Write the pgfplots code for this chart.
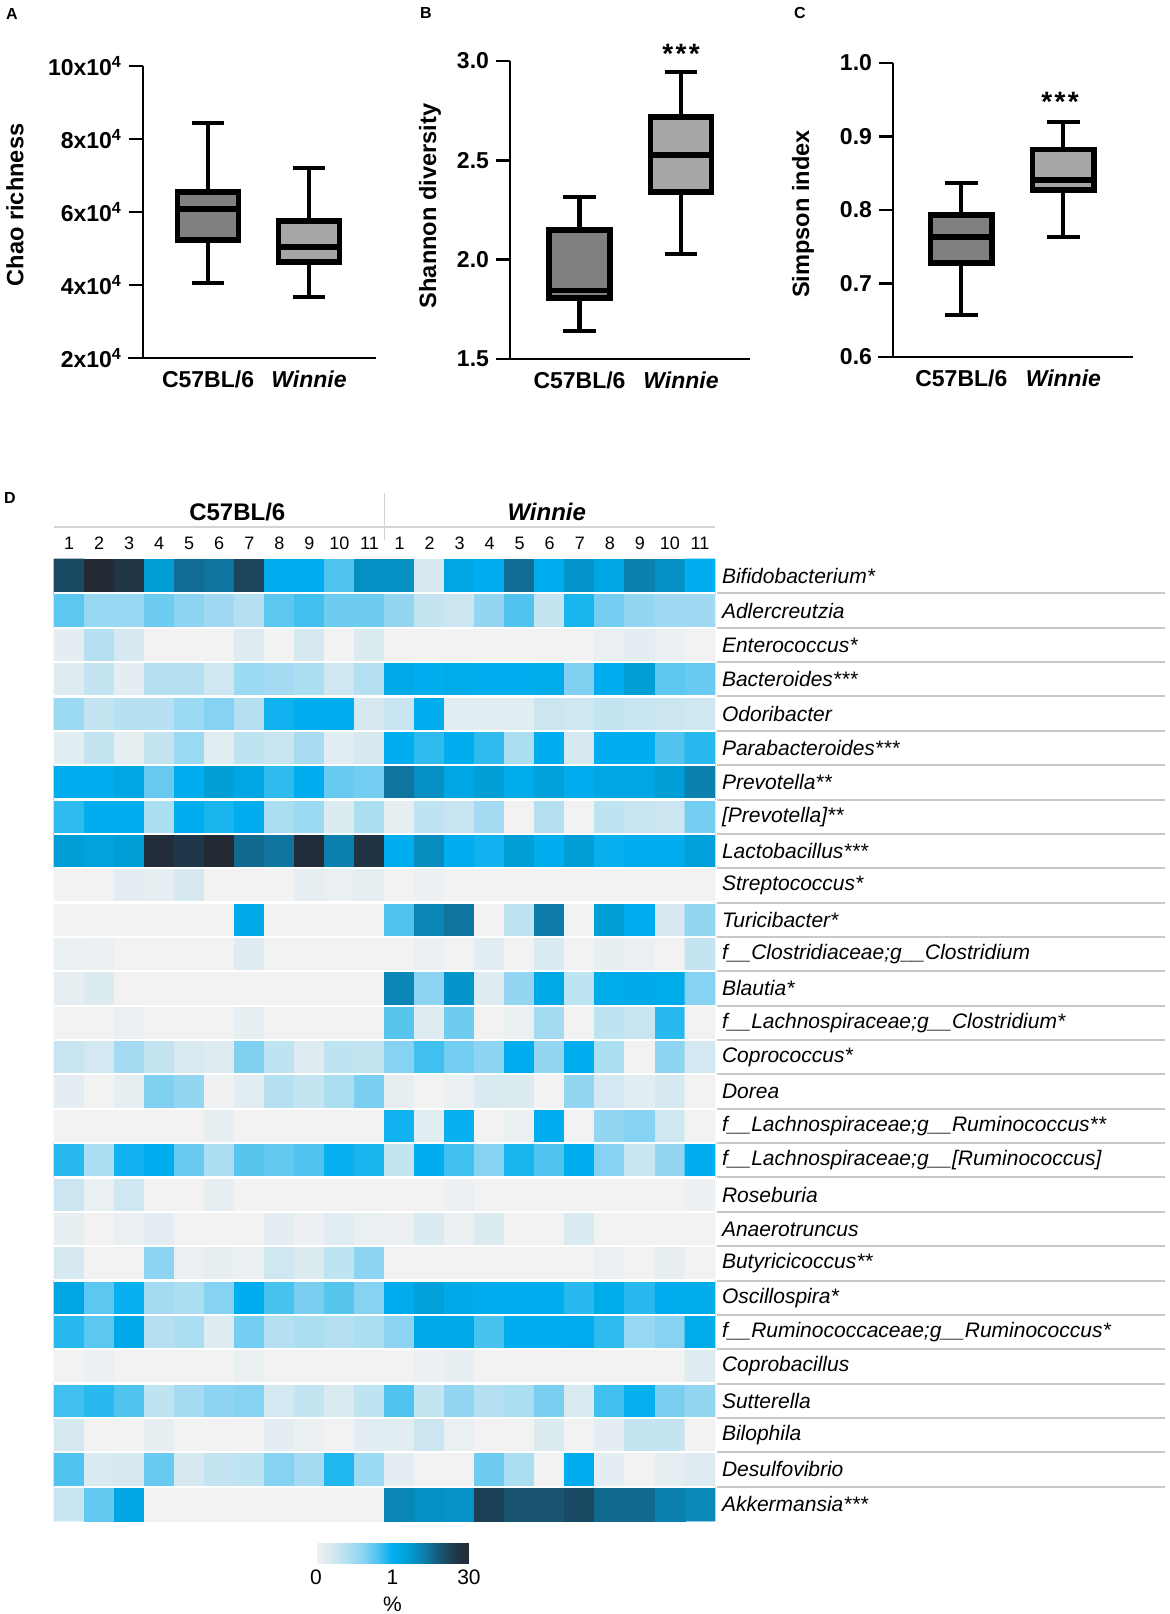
\documentclass[border=0pt]{standalone}
\usepackage{fontspec}
\setmainfont{Liberation Sans}
\usepackage{pgfplots}
\pgfplotsset{compat=1.18}
\usepgfplotslibrary{statistics}
\definecolor{bdark}{RGB}{128,128,128}
\definecolor{blight}{RGB}{166,166,168}
\definecolor{lgray}{RGB}{200,200,200}
\pgfplotsset{
  boxaxis/.style={
    scale only axis, anchor=south west,
    axis lines=left, axis line style={-, line width=1.4pt},
    xtick={1,2}, xticklabels={C57BL/6,\textit{Winnie}},
    x tick style={draw=none},
    tick align=outside, major tick length=7pt,
    y tick style={line width=1.4pt, black},
    ticklabel style={font=\fontsize{11.5}{13}\selectfont\bfseries},
    xticklabel style={yshift=4pt},
    enlargelimits=false, clip=false,
    boxplot/draw direction=y,
  },
  boxst/.style={draw=black, line width=2.7pt, line join=miter,
    boxplot/every whisker/.style={line width=2.1pt},
    boxplot/every median/.style={line width=2.7pt}},
  bp/.style n args={6}{boxplot prepared={draw direction=y, lower whisker=#1, lower quartile=#2, median=#3, upper quartile=#4, upper whisker=#5, draw position=#6, box extend=0.6, whisker extend=0.32}},
}
\begin{document}
\begin{tikzpicture}
\useasboundingbox (0,0) rectangle (585pt,807pt);

% ---------- A ----------
\begin{axis}[boxaxis, at={(71.5pt,628pt)}, width=116.5pt, height=146pt,
  xmin=0.356, xmax=2.663, ymin=2, ymax=10, ytick={2,4,6,8,10},
  yticklabels={2x10\textsuperscript{4},4x10\textsuperscript{4},6x10\textsuperscript{4},8x10\textsuperscript{4},10x10\textsuperscript{4}}]
\addplot[boxst, fill=bdark, bp={4.05}{5.23}{6.08}{6.55}{8.44}{1}] coordinates {};
\addplot[boxst, fill=blight, bp={3.68}{4.63}{5.04}{5.75}{7.2}{2}] coordinates {};
\draw[line width=1.4pt] (axis cs:0.208,2) -- (axis cs:0.356,2);
\end{axis}

% ---------- B ----------
\begin{axis}[boxaxis, at={(255pt,627.5pt)}, width=120pt, height=149pt,
  xmin=0.315, xmax=2.68, ymin=1.5, ymax=3.0, ytick={1.5,2,2.5,3},
  yticklabels={1.5,2.0,2.5,3.0}]
\addplot[boxst, fill=bdark, bp={1.641}{1.807}{1.845}{2.149}{2.315}{1}] coordinates {};
\addplot[boxst, fill=blight, bp={2.029}{2.34}{2.527}{2.718}{2.944}{2}] coordinates {};
\draw[line width=1.4pt] (axis cs:0.187,1.5) -- (axis cs:0.315,1.5);
\end{axis}

% ---------- C ----------
\begin{axis}[boxaxis, at={(446.5pt,628.5pt)}, width=117.5pt, height=147pt,
  xmin=0.33, xmax=2.68, ymin=0.6, ymax=1.0, ytick={0.6,0.7,0.8,0.9,1.0},
  yticklabels={0.6,0.7,0.8,0.9,1.0}]
\addplot[boxst, fill=bdark, bp={0.657}{0.728}{0.763}{0.793}{0.837}{1}] coordinates {};
\addplot[boxst, fill=blight, bp={0.763}{0.827}{0.841}{0.882}{0.920}{2}] coordinates {};
\draw[line width=1.4pt] (axis cs:0.18,0.6) -- (axis cs:0.33,0.6);
\end{axis}

\node[rotate=90, font=\fontsize{11.8}{14}\selectfont\bfseries] at (7.5pt,704.5pt) {Chao richness};
\node[rotate=90, font=\fontsize{11.8}{14}\selectfont\bfseries] at (215pt,704pt) {Shannon diversity};
\node[rotate=90, font=\fontsize{11.8}{14}\selectfont\bfseries] at (401.5pt,700pt) {Simpson index};
\node[font=\fontsize{8}{9}\selectfont\bfseries] at (6pt,800pt) {A};
\node[font=\fontsize{8}{9}\selectfont\bfseries] at (213pt,800.5pt) {B};
\node[font=\fontsize{8}{9}\selectfont\bfseries] at (400pt,800.5pt) {C};
\node[font=\fontsize{8}{9}\selectfont\bfseries] at (5pt,558pt) {D};
\node[font=\fontsize{14}{14}\selectfont\bfseries] at (340.5pt,780pt) {*\hspace{1.2pt}*\hspace{1.2pt}*};
\node[font=\fontsize{14}{14}\selectfont\bfseries] at (530pt,756pt) {*\hspace{1.2pt}*\hspace{1.2pt}*};

% ---------- D heatmap ----------
\begin{axis}[at={(27pt,46.5pt)}, anchor=south west, scale only axis,
  width=330.5pt, height=481pt,
  xmin=-0.5, xmax=21.5, ymin=-0.5, ymax=27.5, y dir=reverse,
  axis line style={draw=none}, clip=false, axis on top,
  xtick=\empty, ytick={0,...,27},
  minor xtick={0.5,1.5,...,20.5}, minor ytick={0.5,1.5,...,26.5},
  grid=minor, minor grid style={white, line width=1.1pt},
  major tick length=0pt, minor tick length=0pt,
  yticklabel pos=right,
  yticklabel style={anchor=west, font=\fontsize{10.5}{12}\selectfont\itshape},
  yticklabels={Bifidobacterium*, Adlercreutzia, Enterococcus*, Bacteroides***, Odoribacter, Parabacteroides***, Prevotella**, {[Prevotella]**}, Lactobacillus***, Streptococcus*, Turicibacter*, f\_\_Clostridiaceae;g\_\_Clostridium, Blautia*, f\_\_Lachnospiraceae;g\_\_Clostridium*, Coprococcus*, Dorea, f\_\_Lachnospiraceae;g\_\_Ruminococcus**, {f\_\_Lachnospiraceae;g\_\_[Ruminococcus]}, Roseburia, Anaerotruncus, Butyricicoccus**, Oscillospira*, f\_\_Ruminococcaceae;g\_\_Ruminococcus*, Coprobacillus, Sutterella, Bilophila, Desulfovibrio, Akkermansia***},
  colormap={hm}{rgb255(0)=(242,242,242) rgb255(1)=(214,233,240) rgb255(2)=(180,224,242) rgb255(3)=(140,212,242) rgb255(4)=(80,196,239) rgb255(5)=(0,174,239) rgb255(6)=(0,158,214) rgb255(7)=(12,128,174) rgb255(8)=(22,90,120) rgb255(9)=(30,58,78) rgb255(10)=(36,42,52)},
  point meta min=0, point meta max=10,
  colorbar horizontal,
  colorbar style={at={(parent axis.south west)}, anchor=north west, xshift=131pt, yshift=-2.5pt,
    scale only axis, width=76.5pt, height=10pt,
    xtick={0,5,10}, xticklabels={0,1,30}, major tick length=0pt,
    axis line style={draw=none}, tick style={draw=none},
    xticklabel style={font=\fontsize{10.5}{12}\selectfont},
    xlabel={\%}, xlabel style={font=\fontsize{10.5}{12}\selectfont, yshift=1pt}},
]
\addplot[matrix plot*, mesh/cols=22, point meta=explicit] coordinates {
(0,0)[8.5] (1,0)[10] (2,0)[9.3] (3,0)[6] (4,0)[7.5] (5,0)[7.3] (6,0)[8.7] (7,0)[5] (8,0)[5] (9,0)[4] (10,0)[6.5] (11,0)[6.5] (12,0)[1] (13,0)[5.5] (14,0)[5] (15,0)[7.5] (16,0)[5] (17,0)[6.3] (18,0)[5.5] (19,0)[7] (20,0)[6.5] (21,0)[5]

(0,1)[3.8] (1,1)[2.7] (2,1)[2.7] (3,1)[3.5] (4,1)[3] (5,1)[2.5] (6,1)[2] (7,1)[3.8] (8,1)[4.2] (9,1)[3.5] (10,1)[3.5] (11,1)[2.8] (12,1)[1.5] (13,1)[1.3] (14,1)[2.8] (15,1)[4] (16,1)[1.5] (17,1)[4.7] (18,1)[3.4] (19,1)[2.8] (20,1)[2.5] (21,1)[2.5]

(0,2)[0.5] (1,2)[2] (2,2)[1] (3,2)[0] (4,2)[0] (5,2)[0] (6,2)[0.7] (7,2)[0] (8,2)[1] (9,2)[0] (10,2)[0.8] (11,2)[0] (12,2)[0] (13,2)[0] (14,2)[0] (15,2)[0] (16,2)[0] (17,2)[0] (18,2)[0.3] (19,2)[0.5] (20,2)[0.3] (21,2)[0]

(0,3)[0.7] (1,3)[1.5] (2,3)[0.5] (3,3)[2] (4,3)[2] (5,3)[1.2] (6,3)[2.6] (7,3)[2.4] (8,3)[2.2] (9,3)[1.2] (10,3)[2] (11,3)[5.3] (12,3)[5] (13,3)[5.2] (14,3)[5] (15,3)[5] (16,3)[5.2] (17,3)[3.2] (18,3)[5] (19,3)[6] (20,3)[3.8] (21,3)[3.6]

(0,4)[2.6] (1,4)[1.5] (2,4)[1.9] (3,4)[1.9] (4,4)[2.6] (5,4)[3.1] (6,4)[2] (7,4)[4.8] (8,4)[5] (9,4)[5] (10,4)[1] (11,4)[1.4] (12,4)[5] (13,4)[0.6] (14,4)[0.6] (15,4)[0.6] (16,4)[1.3] (17,4)[1.2] (18,4)[1.6] (19,4)[1.4] (20,4)[1.3] (21,4)[1.2]

(0,5)[0.6] (1,5)[1.5] (2,5)[0.4] (3,5)[1.5] (4,5)[2.6] (5,5)[0.6] (6,5)[1.7] (7,5)[1.4] (8,5)[2.3] (9,5)[0.6] (10,5)[1] (11,5)[5] (12,5)[4.4] (13,5)[5] (14,5)[4.4] (15,5)[2.2] (16,5)[5] (17,5)[1] (18,5)[5] (19,5)[5] (20,5)[4] (21,5)[4.5]

(0,6)[5] (1,6)[5] (2,6)[5.5] (3,6)[3.6] (4,6)[5] (5,6)[6] (6,6)[5.5] (7,6)[4.4] (8,6)[5] (9,6)[3.6] (10,6)[3.4] (11,6)[7.3] (12,6)[6.5] (13,6)[5.5] (14,6)[6] (15,6)[5.2] (16,6)[5.8] (17,6)[5.1] (18,6)[5.5] (19,6)[5.5] (20,6)[6] (21,6)[7]

(0,7)[4.4] (1,7)[5] (2,7)[5] (3,7)[2.2] (4,7)[5] (5,7)[4.7] (6,7)[5] (7,7)[2.2] (8,7)[2.6] (9,7)[0.8] (10,7)[2.2] (11,7)[0.4] (12,7)[1.7] (13,7)[1.4] (14,7)[2.4] (15,7)[0] (16,7)[2] (17,7)[0] (18,7)[1.7] (19,7)[1.4] (20,7)[1.3] (21,7)[3.4]

(0,8)[6] (1,8)[5.7] (2,8)[6] (3,8)[9.8] (4,8)[9.2] (5,8)[10] (6,8)[7.6] (7,8)[7.3] (8,8)[9.8] (9,8)[7] (10,8)[9.4] (11,8)[5] (12,8)[6.6] (13,8)[5] (14,8)[4.8] (15,8)[6] (16,8)[5] (17,8)[6] (18,8)[4.9] (19,8)[5] (20,8)[5] (21,8)[5.8]

(0,9)[0] (1,9)[0] (2,9)[0.5] (3,9)[0.4] (4,9)[1] (5,9)[0] (6,9)[0] (7,9)[0] (8,9)[0.4] (9,9)[0.3] (10,9)[0.4] (11,9)[0] (12,9)[0.2] (13,9)[0] (14,9)[0] (15,9)[0] (16,9)[0] (17,9)[0] (18,9)[0] (19,9)[0] (20,9)[0] (21,9)[0]

(0,10)[0] (1,10)[0] (2,10)[0] (3,10)[0] (4,10)[0] (5,10)[0] (6,10)[5.3] (7,10)[0] (8,10)[0] (9,10)[0] (10,10)[0] (11,10)[4] (12,10)[6.8] (13,10)[7.3] (14,10)[0] (15,10)[1.7] (16,10)[7.1] (17,10)[0] (18,10)[6] (19,10)[5] (20,10)[1] (21,10)[2.8]

(0,11)[0.3] (1,11)[0.2] (2,11)[0] (3,11)[0] (4,11)[0] (5,11)[0] (6,11)[0.7] (7,11)[0] (8,11)[0] (9,11)[0] (10,11)[0] (11,11)[0] (12,11)[0.3] (13,11)[0] (14,11)[0.6] (15,11)[0] (16,11)[0.9] (17,11)[0] (18,11)[0.4] (19,11)[0.3] (20,11)[0] (21,11)[1.5]

(0,12)[0.4] (1,12)[0.8] (2,12)[0] (3,12)[0] (4,12)[0] (5,12)[0] (6,12)[0] (7,12)[0] (8,12)[0] (9,12)[0] (10,12)[0] (11,12)[6.8] (12,12)[3] (13,12)[6.3] (14,12)[0.7] (15,12)[2.8] (16,12)[5.4] (17,12)[1.7] (18,12)[5.2] (19,12)[5.3] (20,12)[5.2] (21,12)[3.1]

(0,13)[0] (1,13)[0] (2,13)[0.3] (3,13)[0] (4,13)[0] (5,13)[0] (6,13)[0.4] (7,13)[0] (8,13)[0] (9,13)[0] (10,13)[0] (11,13)[3.9] (12,13)[0.7] (13,13)[3.5] (14,13)[0] (15,13)[0.3] (16,13)[2.4] (17,13)[0] (18,13)[1.7] (19,13)[1.4] (20,13)[4.5] (21,13)[0]

(0,14)[1.4] (1,14)[1.1] (2,14)[2.4] (3,14)[1.5] (4,14)[0.9] (5,14)[0.7] (6,14)[3.2] (7,14)[1.7] (8,14)[0.7] (9,14)[1.7] (10,14)[1.5] (11,14)[3.1] (12,14)[4.2] (13,14)[3.4] (14,14)[3] (15,14)[5] (16,14)[2.8] (17,14)[5] (18,14)[2.2] (19,14)[0] (20,14)[3] (21,14)[1.1]

(0,15)[0.5] (1,15)[0] (2,15)[0.4] (3,15)[3.2] (4,15)[2.8] (5,15)[0.1] (6,15)[0.6] (7,15)[2] (8,15)[1.5] (9,15)[2.2] (10,15)[3.3] (11,15)[0.4] (12,15)[0] (13,15)[0.3] (14,15)[0.9] (15,15)[0.8] (16,15)[0] (17,15)[2.8] (18,15)[1.1] (19,15)[0.6] (20,15)[1] (21,15)[0]

(0,16)[0] (1,16)[0] (2,16)[0] (3,16)[0] (4,16)[0] (5,16)[0.4] (6,16)[0] (7,16)[0] (8,16)[0] (9,16)[0] (10,16)[0] (11,16)[4.8] (12,16)[0.6] (13,16)[4.9] (14,16)[0] (15,16)[0.3] (16,16)[5] (17,16)[0] (18,16)[2.8] (19,16)[3.1] (20,16)[1.2] (21,16)[0]

(0,17)[4.5] (1,17)[2.2] (2,17)[4.8] (3,17)[5] (4,17)[3.6] (5,17)[2.2] (6,17)[3.9] (7,17)[3.7] (8,17)[4] (9,17)[4.9] (10,17)[4.7] (11,17)[1.5] (12,17)[5] (13,17)[4.2] (14,17)[3.1] (15,17)[4.7] (16,17)[4] (17,17)[5] (18,17)[3.1] (19,17)[1.4] (20,17)[2.8] (21,17)[5]

(0,18)[1.3] (1,18)[0.3] (2,18)[1.2] (3,18)[0] (4,18)[0] (5,18)[0.4] (6,18)[0] (7,18)[0] (8,18)[0] (9,18)[0] (10,18)[0] (11,18)[0] (12,18)[0] (13,18)[0.2] (14,18)[0] (15,18)[0] (16,18)[0] (17,18)[0] (18,18)[0] (19,18)[0] (20,18)[0] (21,18)[0.2]

(0,19)[0.4] (1,19)[0] (2,19)[0.3] (3,19)[0.5] (4,19)[0] (5,19)[0] (6,19)[0] (7,19)[0.5] (8,19)[0.2] (9,19)[0.6] (10,19)[0.3] (11,19)[0.2] (12,19)[0.9] (13,19)[0.3] (14,19)[0.8] (15,19)[0] (16,19)[0] (17,19)[0.9] (18,19)[0] (19,19)[0] (20,19)[0] (21,19)[0]

(0,20)[1] (1,20)[0] (2,20)[0] (3,20)[3] (4,20)[0.3] (5,20)[0.4] (6,20)[0.3] (7,20)[1.2] (8,20)[0.8] (9,20)[1.7] (10,20)[3] (11,20)[0] (12,20)[0] (13,20)[0] (14,20)[0] (15,20)[0] (16,20)[0] (17,20)[0] (18,20)[0.3] (19,20)[0] (20,20)[0.4] (21,20)[0]

(0,21)[5.5] (1,21)[3.8] (2,21)[4.9] (3,21)[2.4] (4,21)[2.2] (5,21)[3.1] (6,21)[5] (7,21)[4.1] (8,21)[3.3] (9,21)[3.9] (10,21)[3.1] (11,21)[5.1] (12,21)[5.8] (13,21)[5.3] (14,21)[5.1] (15,21)[5] (16,21)[5] (17,21)[4.5] (18,21)[5.2] (19,21)[4.5] (20,21)[5.1] (21,21)[5.2]

(0,22)[4.5] (1,22)[3.8] (2,22)[5.3] (3,22)[2] (4,22)[2.2] (5,22)[0.7] (6,22)[3.4] (7,22)[2] (8,22)[2.2] (9,22)[2] (10,22)[2.2] (11,22)[3] (12,22)[5.3] (13,22)[5.3] (14,22)[4.1] (15,22)[5] (16,22)[5] (17,22)[5.1] (18,22)[4.4] (19,22)[2.7] (20,22)[3.1] (21,22)[5.2]

(0,23)[0] (1,23)[0.2] (2,23)[0] (3,23)[0] (4,23)[0] (5,23)[0] (6,23)[0.3] (7,23)[0] (8,23)[0] (9,23)[0] (10,23)[0] (11,23)[0] (12,23)[0.2] (13,23)[0.4] (14,23)[0] (15,23)[0] (16,23)[0] (17,23)[0] (18,23)[0] (19,23)[0] (20,23)[0] (21,23)[0.7]

(0,24)[4.2] (1,24)[4.5] (2,24)[4] (3,24)[1.7] (4,24)[2.4] (5,24)[3] (6,24)[3.1] (7,24)[1.1] (8,24)[1.5] (9,24)[0.9] (10,24)[1.7] (11,24)[4] (12,24)[1.5] (13,24)[2.8] (14,24)[2] (15,24)[2.2] (16,24)[3.3] (17,24)[0.9] (18,24)[4.2] (19,24)[4.9] (20,24)[3.3] (21,24)[2.8]

(0,25)[1] (1,25)[0] (2,25)[0] (3,25)[0.4] (4,25)[0] (5,25)[0] (6,25)[0] (7,25)[0.5] (8,25)[0.3] (9,25)[0] (10,25)[0.6] (11,25)[0.6] (12,25)[1.3] (13,25)[0.3] (14,25)[0] (15,25)[0] (16,25)[0.8] (17,25)[0] (18,25)[0.5] (19,25)[1.5] (20,25)[1.5] (21,25)[0]

(0,26)[4] (1,26)[0.9] (2,26)[1] (3,26)[3.6] (4,26)[1] (5,26)[1.5] (6,26)[1.7] (7,26)[3.1] (8,26)[2.4] (9,26)[4.6] (10,26)[2.6] (11,26)[0.5] (12,26)[0] (13,26)[0] (14,26)[3.5] (15,26)[2.2] (16,26)[0] (17,26)[5] (18,26)[0.5] (19,26)[0] (20,26)[0.4] (21,26)[0.7]

(0,27)[1.4] (1,27)[3.7] (2,27)[5.5] (3,27)[0] (4,27)[0] (5,27)[0] (6,27)[0] (7,27)[0] (8,27)[0] (9,27)[0] (10,27)[0] (11,27)[6.8] (12,27)[6.5] (13,27)[6.4] (14,27)[8.8] (15,27)[8.2] (16,27)[8.2] (17,27)[8.5] (18,27)[7.6] (19,27)[7.6] (20,27)[7] (21,27)[6.7]
};
\pgfplotsinvokeforeach{0.5,1.5,...,26.5}{\draw[lgray, line width=1pt] (axis cs:21.56,#1) -- (axis cs:36.47,#1);}
\draw[lgray!80, line width=0.8pt] (axis cs:-0.5,-1.431) -- (axis cs:21.5,-1.431);
\draw[lgray!80, line width=0.8pt] (axis cs:10.5,-2.42) -- (axis cs:10.5,-1.053);
\node[font=\fontsize{12}{14}\selectfont\bfseries] at (axis cs:5.6,-1.868) {C57BL/6};
\node[font=\fontsize{12}{14}\selectfont\bfseries\itshape] at (axis cs:15.9,-1.868) {Winnie};
\pgfplotsinvokeforeach{0,...,10}{\node[font=\fontsize{9}{10}\selectfont] at (axis cs:#1,-0.966) {\number\numexpr#1+1\relax};}
\pgfplotsinvokeforeach{11,...,21}{\node[font=\fontsize{9}{10}\selectfont] at (axis cs:#1,-0.966) {\number\numexpr#1-10\relax};}
\end{axis}
\end{tikzpicture}
\end{document}
